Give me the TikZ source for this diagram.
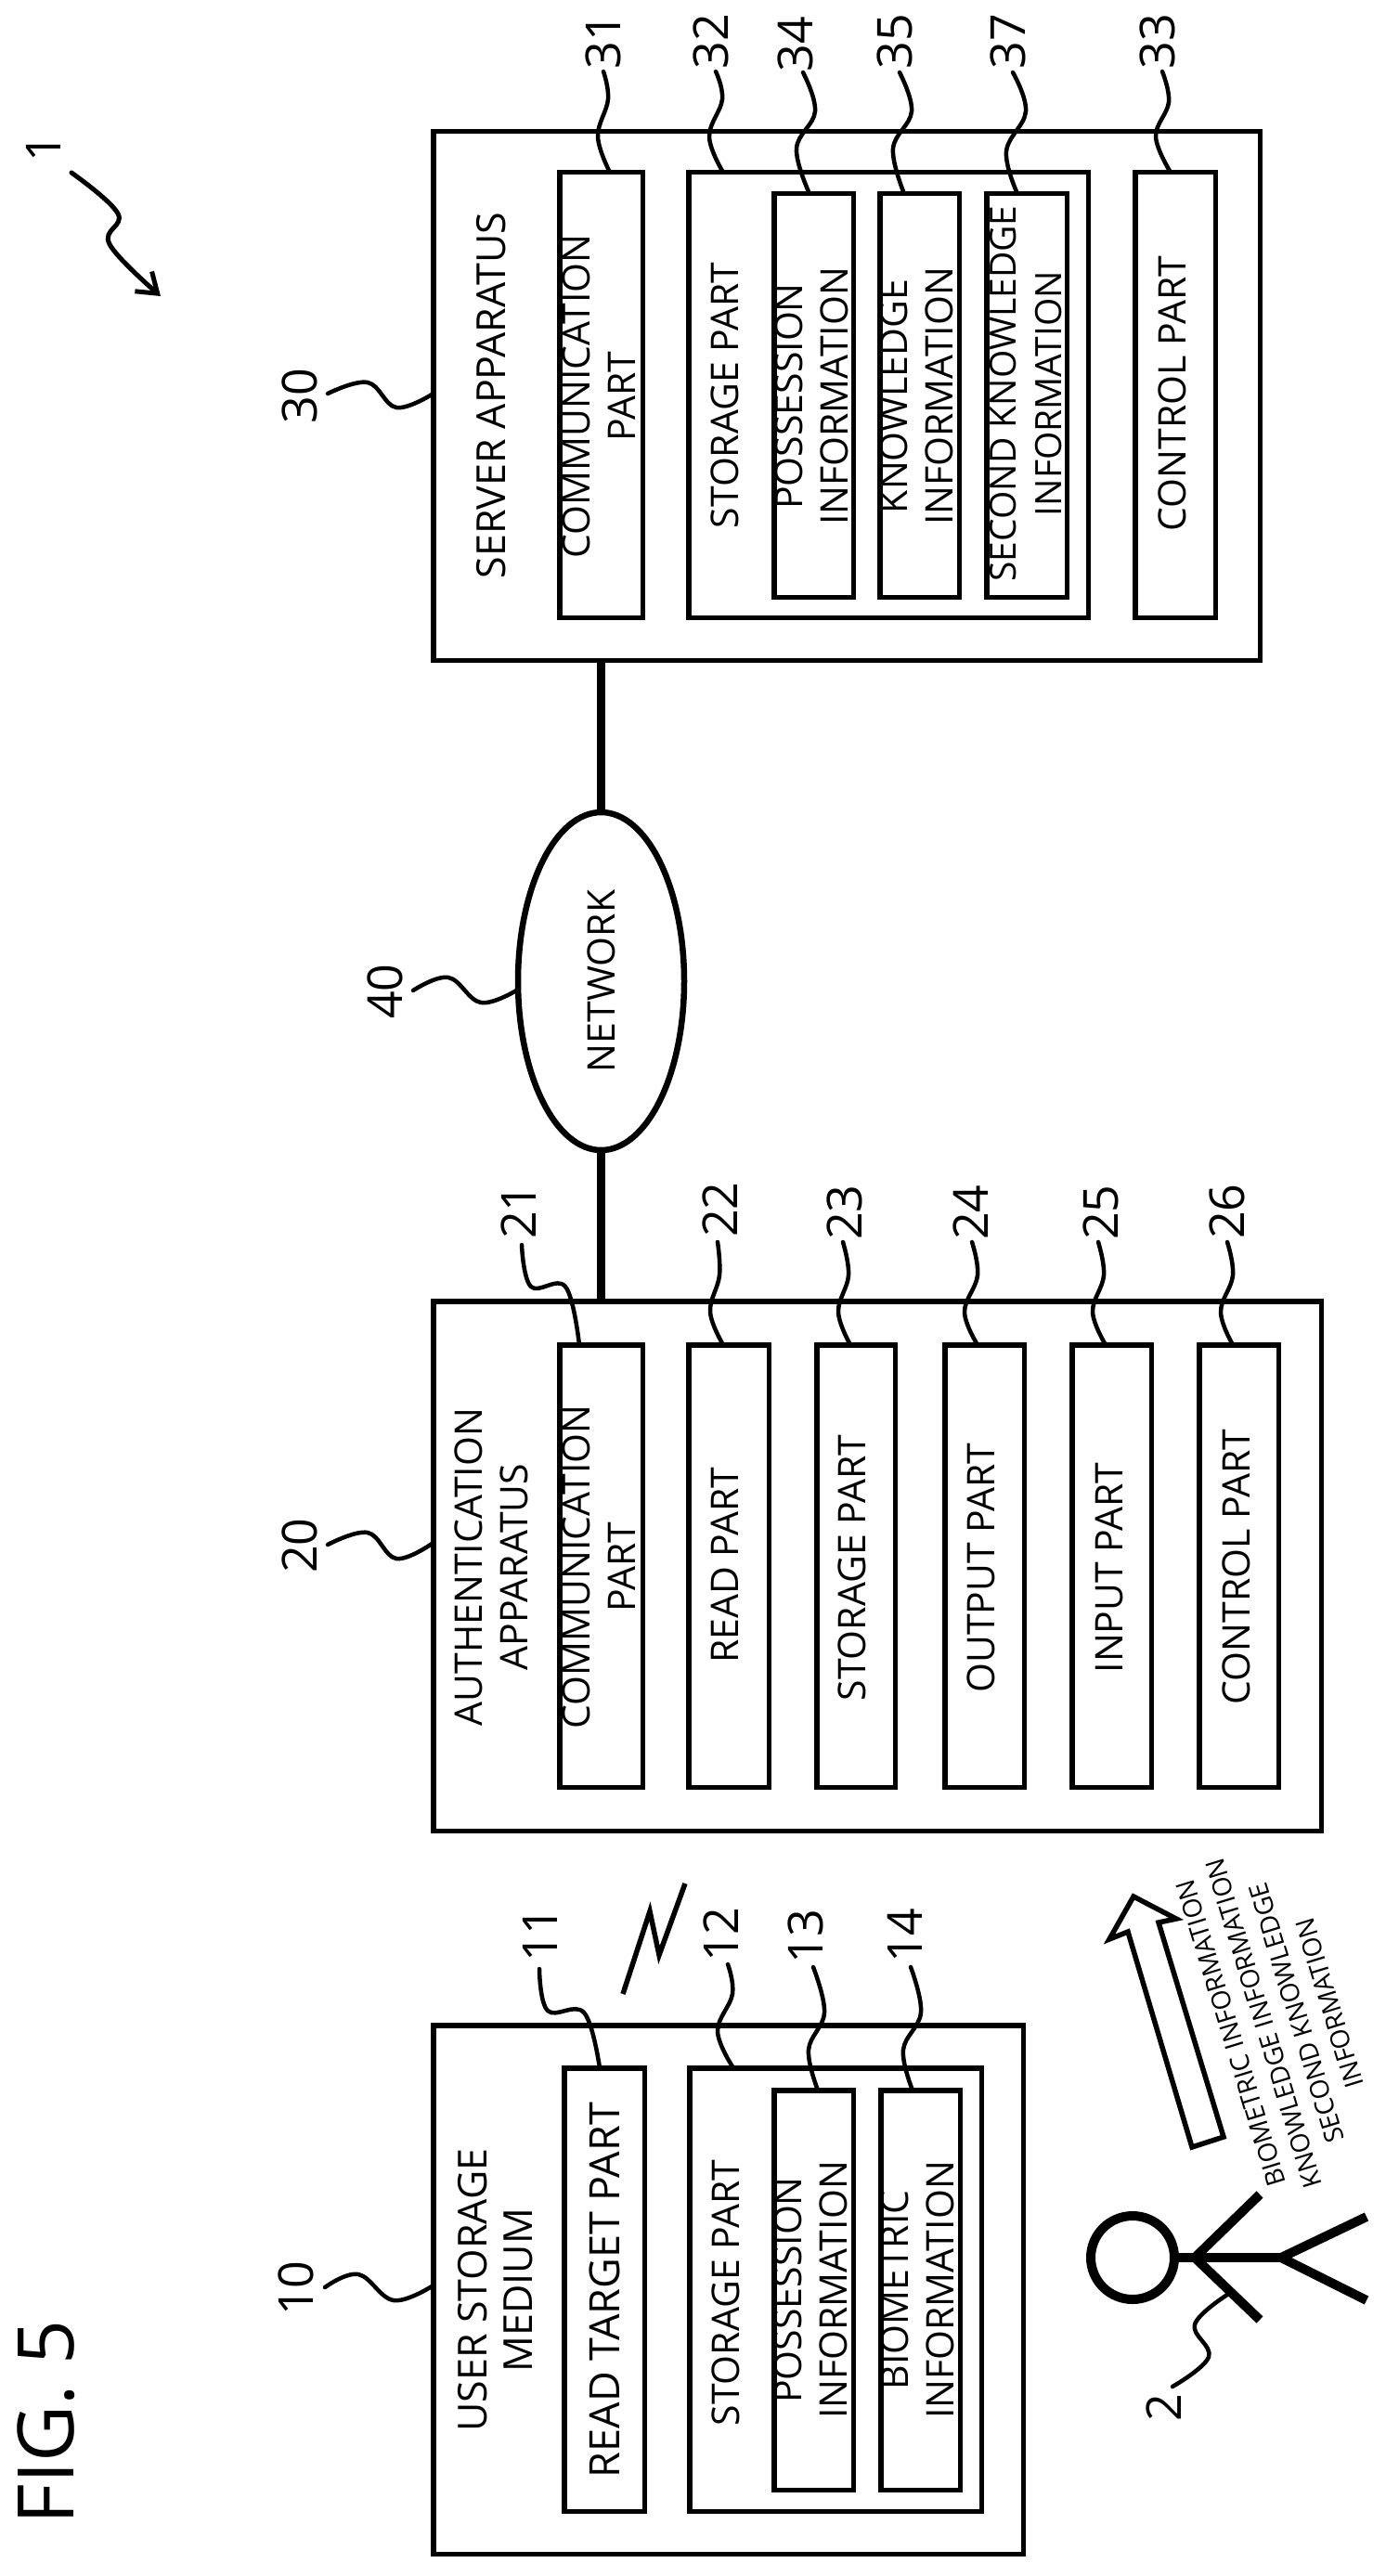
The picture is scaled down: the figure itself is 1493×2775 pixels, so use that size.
\documentclass[tikz,border=0pt]{standalone}
\usepackage{graphicx}
\usepackage{fontspec}
\setmainfont{Open Sans}
\usetikzlibrary{shapes.geometric,arrows.meta}
\newcommand{\fsz}[2]{\fontsize{#1}{#2}\selectfont}
\tikzset{
  box/.style={draw,line width=5.5pt,inner sep=0pt,outer sep=0pt,fill=none},
  txt/.style={rotate=90,inner sep=0pt,align=center,font=\fsz{41}{49}},
  num/.style={rotate=90,inner sep=0pt,font=\fsz{52}{60}},
  lead/.style={line width=4.5pt,line cap=round},
  limb/.style={line width=10pt},
  netline/.style={line width=9.5pt},
}
% \bx{name}{x1}{y1}{x2}{y2}: outer edges of the stroked box
\newcommand{\bx}[5]{%
  \pgfmathsetmacro{\wdd}{#4-#2-5.5}\pgfmathsetmacro{\htt}{#5-#3-5.5}%
  \pgfmathsetmacro{\cxx}{(#2+#4)/2}\pgfmathsetmacro{\cyy}{(#3+#5)/2}%
  \node[box,minimum width=\wdd pt,minimum height=\htt pt] (#1) at (\cxx,\cyy) {};}
% \ldr{start}{mid}{mid}{end}
\newcommand{\ldr}[4]{%
  \coordinate (ls) at (#1);\coordinate (le) at (#4);%
  \draw[lead] plot[smooth,tension=.65] coordinates {(ls) (#2) (#3) (le)};}
\begin{document}
\begin{tikzpicture}[x=1pt,y=-1pt]
\useasboundingbox (0,0) rectangle (1493,2775);
\fill[white] (0,0) rectangle (1493,2775);

% ---------- server apparatus
\bx{b30}{464}{139}{1360}{714}
\bx{b31}{600}{183}{695}{668}
\bx{b32}{739}{183}{1175}{668}
\bx{b34}{831}{206}{922}{646}
\bx{b35}{945}{206}{1036}{646}
\bx{b37}{1060}{206}{1152}{646}
\bx{b33}{1220}{183}{1312}{668}
\node[txt,font=\fsz{43}{49}] (t30) at (529,426) {SERVER APPARATUS};
\node[txt] (t31) at (645,427) {COMMUNICATION\\PART};
\node[txt] (t32) at (781,426) {STORAGE PART};
\node[txt] (t34) at (874,427) {POSSESSION\\INFORMATION};
\node[txt] (t35) at (987,427) {KNOWLEDGE\\INFORMATION};
\node[txt,font=\fsz{39}{49}] (t37) at (1105,424) {SECOND KNOWLEDGE\\INFORMATION};
\node[txt] (t33) at (1263,424) {CONTROL PART};

% ---------- authentication apparatus
\bx{b20}{464}{1399}{1426}{1975}
\bx{b21}{600}{1446}{695}{1928}
\bx{b22}{739}{1446}{831}{1928}
\bx{b23}{877}{1446}{967}{1928}
\bx{b24}{1015}{1446}{1106}{1928}
\bx{b25}{1152}{1446}{1243}{1928}
\bx{b26}{1289}{1446}{1380}{1928}
\node[txt] (t20) at (529,1688) {AUTHENTICATION\\APPARATUS};
\node[txt] (t21) at (645,1688) {COMMUNICATION\\PART};
\node[txt] (t22) at (781,1686) {READ PART};
\node[txt] (t23) at (918,1689) {STORAGE PART};
\node[txt] (t24) at (1057,1689) {OUTPUT PART};
\node[txt] (t25) at (1195,1689) {INPUT PART};
\node[txt] (t26) at (1332,1688) {CONTROL PART};

% ---------- user storage medium
\bx{b10}{464}{2179}{1105}{2754}
\bx{b11}{605}{2225}{697}{2708}
\bx{b12}{740}{2225}{1060}{2708}
\bx{b13}{831}{2249}{922}{2685}
\bx{b14}{946}{2249}{1037}{2685}
\node[txt,font=\fsz{43}{49}] (t10) at (534,2467) {USER STORAGE\\MEDIUM};
\node[txt,font=\fsz{45}{49}] (t11) at (651,2467) {READ TARGET PART};
\node[txt] (t12) at (782,2470) {STORAGE PART};
\node[txt] (t13) at (873,2467) {POSSESSION\\INFORMATION};
\node[txt] (t14) at (988,2467) {BIOMETRIC\\INFORMATION};

% ---------- network
\node[draw,ellipse,line width=6.5pt,inner sep=0pt,outer sep=0pt,minimum width=179pt,minimum height=364pt] (n40) at (647.5,1057)
  {\rotatebox{90}{\fsz{41}{48}NETWORK}};
\draw[netline] (b30.south -| n40.north) -- (n40.north);
\draw[netline] (n40.south) -- (n40.south |- b20.north);

% ---------- reference numbers
\node[num] (l1) at (47,160) {1};
\node[num] (l2) at (1254,2594) {2};
\node[num] (l10) at (319,2465) {10};
\node[num] (l11) at (582,2084) {11};
\node[num] (l12) at (777,2084) {12};
\node[num] (l13) at (868,2086) {13};
\node[num] (l14) at (975,2085) {14};
\node[num] (l20) at (323,1665) {20};
\node[num] (l21) at (559,1305) {21};
\node[num] (l22) at (776,1303) {22};
\node[num] (l23) at (910,1306) {23};
\node[num] (l24) at (1046,1306) {24};
\node[num] (l25) at (1186,1306) {25};
\node[num] (l26) at (1322,1305) {26};
\node[num] (l30) at (323,427) {30};
\node[num] (l31) at (650,45) {31};
\node[num] (l32) at (766,45) {32};
\node[num] (l33) at (1247,45) {33};
\node[num] (l34) at (857,48) {34};
\node[num] (l35) at (964,45) {35};
\node[num] (l37) at (1086,45) {37};
\node[num] (l40) at (415,1068) {40};

% ---------- leaders
\ldr{650,77}{655,107}{644,147}{b31.north -| 657,0}
\ldr{771,77}{778,107}{764,147}{b32.north -| 779,0}
\ldr{865,78}{878,120}{858,160}{b34.north -| 872,0}
\ldr{969,78}{982,120}{962,160}{b35.north -| 974,0}
\ldr{1091,78}{1105,120}{1084,163}{b37.north -| 1096,0}
\ldr{1252,77}{1259,110}{1245,147}{b33.north -| 1261,0}
\ldr{353,424}{396,412}{427,439}{b30.west |- 0,424}
\ldr{353,1664}{396,1651}{427,1679}{b20.west |- 0,1662}
\ldr{562,1341}{572,1386}{609,1386}{b21.north -| 624,0}
\ldr{773,1338}{775,1374}{765,1413}{b22.north -| 779,0}
\ldr{908,1338}{914,1374}{903,1413}{b23.north -| 916,0}
\ldr{1047,1338}{1053,1374}{1039,1413}{b24.north -| 1053,0}
\ldr{1183,1338}{1189,1374}{1177,1413}{b25.north -| 1191,0}
\ldr{1322,1338}{1328,1374}{1315,1413}{b26.north -| 1328,0}
\ldr{350,2464}{386,2450}{424,2478}{b10.west |- 0,2462}
\ldr{581,2121}{590,2166}{629,2168}{b11.north -| 646,0}
\ldr{784,2116}{789,2148}{773,2188}{b12.north -| 790,0}
\ldr{876,2119}{888,2168}{871,2208}{b13.north -| 881,0}
\ldr{981,2119}{992,2168}{973,2208}{b14.north -| 983,0}
\ldr{445,1067}{483,1053}{518,1080}{n40.west |- 0,1066}

% system arrow
\coordinate (sa) at (77,186);
\coordinate (sb) at (173,319);
\draw[lead,line width=5pt,-{Straight Barb[length=20pt,width=28pt,line width=5pt]}] plot[smooth,tension=.65] coordinates {(sa) (127,230) (118,263) (sb)};

% wireless mark
\coordinate (w1) at (671,2148);
\coordinate (w2) at (700,2059);
\coordinate (w3) at (710,2106);
\coordinate (w4) at (738,2029);
\draw[line width=5.5pt] (w1) -- (w2) -- (w3) -- (w4);

% ---------- person
\node[draw,circle,line width=10pt,inner sep=0pt,outer sep=0pt,minimum size=90pt] (head) at (1220,2432) {};
\coordinate (neck) at (1287,2432);
\coordinate (hip) at (1380,2432);
\draw[limb] (head.east) -- (hip);
\coordinate (arma) at (1357,2364);
\coordinate (armb) at (1357,2499);
\coordinate (lega) at (1472,2388);
\coordinate (legb) at (1472,2478);
\draw[limb] (arma) -- (neck) -- (armb);
\draw[limb] (lega) -- (hip) -- (legb);
\coordinate (ls2) at (1263,2571);
\coordinate (le2) at (1322,2472);
\draw[lead] plot[smooth,tension=.65] coordinates {(ls2) (1302,2539) (1287,2504) (le2)};

% ---------- block arrow and its text
\coordinate (a1) at (1284,2313);
\coordinate (a2) at (1318,2302);
\coordinate (a3) at (1248,2071);
\coordinate (a4) at (1267,2067);
\coordinate (a5) at (1221,2043);
\coordinate (a6) at (1195,2089);
\coordinate (a7) at (1215,2081);
\draw[line width=5.5pt,miter limit=8] (a1) -- (a2) -- (a3) -- (a4) -- (a5) -- (a6) -- (a7) -- cycle;
\node[rotate=107,inner sep=0pt,align=center,font=\fsz{28}{37}] (tarrow) at (1379,2174)
  {BIOMETRIC INFORMATION\\KNOWLEDGE INFORMATION\\SECOND KNOWLEDGE\\INFORMATION};

% ---------- title
\node[rotate=90,inner sep=0pt,font=\fsz{84}{92}] (fig) at (50,2609) {FIG. 5};
\end{tikzpicture}
\end{document}
